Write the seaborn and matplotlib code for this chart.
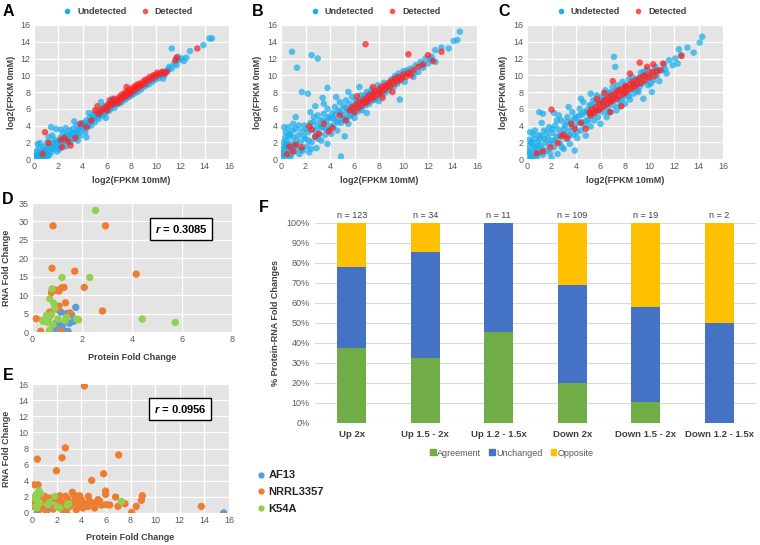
# figura compuesta: FPKM scatter (A-C), fold change (D-E), barras apiladas (F)
import numpy as np
import pandas as pd
import matplotlib
matplotlib.use("Agg")
import matplotlib.pyplot as plt
import seaborn as sns
from matplotlib.lines import Line2D
from matplotlib.patches import Patch

# datos
# A-C: (log2 FPKM 10mM, log2 FPKM 0mM)
a_undet = [
    (0.1, 0.1), (0.2, 0.4), (0.3, 0.1), (0.4, 0.6), (0.5, 0.2), (0.6, 0.9), (0.7, 0.4), (0.8, 0.1),
    (0.9, 0.7), (1.0, 1.2), (0.2, 0.9), (0.4, 1.3), (0.1, 0.6), (0.6, 0.3), (1.1, 0.5), (1.2, 0.9),
    (0.3, 1.8), (0.8, 1.5), (0.5, 1.9), (1.3, 1.5), (1.4, 0.8), (1.5, 1.9), (1.6, 1.2), (1.7, 2.3),
    (1.8, 1.6), (1.9, 0.9), (1.2, 2.6), (1.5, 2.8), (1.4, 3.8), (1.8, 3.6), (1.1, 2.0), (2.0, 2.0),
    (2.1, 1.4), (2.2, 2.6), (2.3, 1.9), (2.4, 3.1), (2.5, 2.2), (2.6, 1.5), (2.7, 2.9), (2.8, 2.4),
    (2.9, 3.4), (3.0, 2.0), (2.2, 3.5), (2.6, 3.7), (3.1, 2.8), (3.2, 3.6), (3.3, 2.4), (3.4, 3.2),
    (3.5, 4.0), (3.6, 3.0), (3.7, 3.6), (3.8, 2.8), (3.9, 4.3), (4.0, 3.5), (3.3, 4.5), (3.6, 2.2),
    (4.1, 4.0), (4.2, 3.2), (4.3, 4.6), (4.4, 3.8), (4.5, 4.4), (4.6, 5.0), (4.7, 4.0), (4.8, 4.7),
    (4.9, 5.3), (5.0, 4.4), (4.3, 2.6), (4.5, 5.5), (5.1, 5.0), (5.2, 5.6), (5.3, 4.8), (5.4, 5.4),
    (5.5, 6.0), (5.6, 5.2), (5.7, 5.8), (5.8, 6.3), (5.9, 5.5), (6.0, 6.0), (5.5, 6.8), (5.9, 4.9),
    (6.1, 6.5), (6.2, 5.8), (6.3, 6.2), (6.5, 6.8), (6.6, 6.1), (6.7, 6.5), (6.9, 7.0), (7.0, 6.6),
    (6.4, 7.2), (7.1, 7.3), (7.2, 6.8), (7.4, 7.5), (7.5, 7.1), (7.6, 7.8), (7.8, 7.4), (7.9, 8.0),
    (8.0, 7.6), (8.1, 8.2), (8.2, 7.8), (8.4, 8.5), (8.5, 8.0), (8.7, 8.7), (8.8, 8.3), (9.0, 9.0),
    (9.1, 8.7), (9.3, 9.3), (9.4, 8.9), (9.6, 9.6), (9.7, 9.2), (9.9, 9.9), (10.0, 9.5), (10.2, 10.1),
    (10.3, 9.7), (10.5, 10.3), (10.7, 10.0), (10.9, 10.5), (10.6, 9.6), (11.1, 11.0), (11.3, 10.8),
    (11.5, 11.4), (11.7, 11.2), (11.9, 11.8), (11.3, 13.2), (11.8, 12.2), (12.1, 12.0), (12.3, 11.7),
    (12.5, 12.1), (12.8, 12.9), (13.9, 13.6), (14.4, 14.4), (14.6, 14.4),
    (0.15, 0.35), (0.35, 0.45), (0.55, 0.55), (0.75, 0.75), (0.95, 0.35), (0.25, 0.15), (0.45, 0.05),
    (0.65, 0.15), (0.05, 0.35), (0.85, 1.05), (1.05, 0.15), (1.25, 0.45), (1.45, 1.35), (1.65, 1.65),
    (1.85, 2.05), (2.05, 1.15), (2.25, 2.05), (2.45, 2.55), (2.65, 2.25), (2.85, 2.85), (3.05, 3.05),
    (3.25, 3.05), (3.45, 2.85), (3.65, 3.45), (3.85, 3.85), (4.05, 4.25), (4.25, 4.25), (4.45, 4.15),
    (4.65, 4.55), (4.85, 4.95), (5.05, 5.25), (5.35, 5.15), (5.65, 5.55), (5.95, 5.85), (6.25, 6.05),
    (6.55, 6.45), (6.85, 6.75), (7.15, 6.95), (7.45, 7.25), (7.75, 7.65), (8.05, 7.95), (8.35, 8.15),
    (8.65, 8.45), (8.95, 8.75), (9.25, 9.05), (9.55, 9.35), (9.85, 9.65), (10.15, 9.95),
    (10.45, 10.05), (10.75, 10.45), (11.05, 10.75),
]
a_det = [
    (0.7, 0.6), (0.9, 3.2), (1.2, 1.9), (2.2, 2.3), (2.3, 1.4), (2.5, 2.5), (2.8, 2.1), (3.0, 1.6),
    (3.4, 2.5), (3.8, 4.2), (4.3, 3.8), (4.7, 4.6), (5.0, 5.8), (5.2, 6.3), (5.3, 5.4), (5.5, 5.7),
    (5.7, 6.0), (5.9, 6.2), (6.0, 5.8), (6.1, 6.5), (6.3, 6.4), (6.4, 6.9), (6.5, 6.6), (6.6, 7.2),
    (6.8, 7.0), (6.9, 6.7), (7.0, 7.4), (7.1, 7.1), (7.2, 7.7), (7.3, 7.3), (7.4, 7.6), (7.5, 8.0),
    (7.6, 7.5), (7.7, 7.9), (7.8, 8.3), (7.9, 7.8), (8.0, 8.1), (8.1, 8.5), (8.2, 8.2), (8.3, 8.7),
    (8.4, 8.4), (8.5, 8.9), (8.6, 8.6), (8.7, 9.0), (8.8, 8.8), (9.0, 9.3), (9.1, 9.0), (9.2, 9.5),
    (9.4, 9.4), (9.5, 9.8), (9.7, 9.6), (9.8, 10.0), (10.0, 9.9), (10.1, 10.3), (10.3, 10.1),
    (10.5, 10.4), (10.7, 10.2), (10.9, 10.4), (11.6, 11.8), (11.7, 12.1), (13.4, 13.2), (6.2, 7.0),
    (7.6, 8.6),
]
b_undet = [
    (0.1, 0.2), (0.2, 0.8), (0.3, 1.5), (0.4, 0.3), (0.5, 2.2), (0.6, 1.0), (0.7, 3.0), (0.8, 0.5),
    (0.9, 1.8), (1.0, 2.6), (0.2, 2.0), (0.4, 3.2), (0.6, 3.8), (0.1, 1.2), (1.1, 0.9), (1.2, 3.6),
    (1.3, 1.4), (1.4, 2.8), (1.5, 0.6), (1.6, 2.0), (1.7, 3.3), (1.8, 1.0), (1.9, 4.0), (2.0, 2.4),
    (1.2, 5.0), (1.0, 4.2), (2.1, 1.5), (2.2, 3.2), (2.3, 0.8), (2.4, 4.3), (2.5, 2.0), (2.6, 3.6),
    (2.7, 5.0), (2.8, 2.6), (2.9, 1.3), (3.0, 4.0), (2.4, 5.6), (3.0, 5.2), (2.8, 6.3), (3.1, 3.0),
    (3.2, 4.6), (3.3, 2.2), (3.4, 3.8), (3.5, 5.4), (3.6, 2.9), (3.7, 4.4), (3.8, 6.0), (3.9, 3.5),
    (4.0, 4.9), (3.5, 6.6), (3.8, 1.8), (4.1, 3.0), (4.2, 5.5), (4.3, 4.0), (4.4, 6.2), (4.5, 4.6),
    (4.6, 3.4), (4.7, 5.8), (4.8, 6.8), (4.9, 4.3), (5.0, 5.3), (4.5, 7.4), (5.2, 2.7), (5.1, 6.3),
    (5.2, 4.8), (5.3, 7.0), (5.4, 5.7), (5.5, 4.2), (5.6, 6.6), (5.7, 5.2), (5.8, 7.4), (5.9, 6.0),
    (6.0, 4.9), (5.5, 8.0), (6.1, 7.0), (6.2, 5.6), (6.3, 6.5), (6.5, 7.6), (6.6, 5.8), (6.7, 7.2),
    (6.9, 6.4), (7.0, 8.0), (6.4, 8.6), (7.0, 5.5), (7.1, 7.3), (7.2, 6.6), (7.4, 8.3), (7.5, 7.0),
    (7.6, 8.0), (7.8, 7.4), (7.9, 8.8), (8.0, 6.9), (8.1, 8.4), (8.2, 7.6), (8.4, 9.1), (8.5, 7.9),
    (8.7, 8.8), (8.8, 8.2), (9.0, 9.5), (9.2, 8.6), (9.3, 9.9), (9.5, 9.0), (9.6, 10.2), (9.8, 9.4),
    (10.0, 10.5), (10.1, 9.2), (10.4, 10.2), (10.6, 10.8), (10.8, 9.8), (11.0, 11.2), (11.2, 10.4),
    (11.4, 11.6), (11.6, 10.9), (11.8, 12.0), (12.0, 11.4), (12.3, 12.2), (12.6, 11.6), (12.6, 13.0),
    (13.1, 13.3), (13.7, 13.2), (14.1, 14.1), (14.4, 14.2), (14.6, 15.2), (0.9, 12.8), (2.5, 12.4),
    (3.0, 12.0), (1.3, 10.9), (1.7, 8.0), (2.2, 7.8), (3.8, 8.5), (3.4, 7.3), (4.9, 0.3), (9.7, 7.1),
    (0.15, 0.5), (0.35, 2.6), (0.55, 1.4), (0.75, 0.2), (0.95, 3.4), (0.25, 3.8), (0.45, 1.8),
    (0.65, 2.8), (0.85, 1.2), (1.05, 1.6), (1.25, 2.2), (1.45, 4.0), (1.65, 1.1), (1.85, 2.7),
    (2.05, 3.6), (2.25, 2.2), (2.45, 1.2), (2.65, 4.4), (2.85, 3.3), (3.05, 2.4), (3.25, 3.8),
    (3.45, 4.6), (3.65, 3.6), (3.85, 5.0), (4.05, 3.9), (4.25, 4.8), (4.45, 5.3), (4.65, 4.4),
    (4.85, 5.6), (5.05, 4.7), (5.25, 6.1), (5.45, 5.0), (5.65, 5.9), (5.85, 5.4), (6.05, 6.3),
    (6.25, 6.9), (6.45, 6.0), (6.65, 6.7), (6.85, 7.6), (7.05, 6.8), (7.3, 7.9), (7.7, 7.1),
    (8.3, 8.0), (8.9, 8.5), (9.4, 9.6), (9.9, 9.8), (10.3, 10.6), (10.9, 10.3), (11.5, 11.2),
    (12.2, 11.9),
]
b_det = [
    (0.5, 0.6), (0.7, 1.5), (1.0, 0.9), (1.2, 1.7), (1.7, 1.4), (2.3, 3.9), (2.5, 3.5), (2.8, 2.7),
    (3.1, 3.0), (3.5, 4.2), (3.9, 3.3), (4.2, 3.7), (4.8, 5.2), (5.3, 4.6), (5.6, 5.8), (5.8, 6.2),
    (6.0, 5.6), (6.1, 6.5), (6.3, 6.1), (6.4, 6.8), (6.6, 6.4), (6.7, 7.0), (6.9, 6.7), (7.0, 7.3),
    (7.1, 6.9), (7.2, 7.6), (7.4, 7.2), (7.5, 7.8), (7.6, 7.4), (7.7, 8.1), (7.9, 7.7), (8.0, 8.3),
    (8.1, 7.9), (8.2, 8.6), (8.4, 8.2), (8.5, 8.8), (8.6, 8.5), (8.8, 9.1), (8.9, 8.7), (9.0, 9.3),
    (9.2, 9.0), (9.3, 9.6), (9.5, 9.3), (9.6, 9.8), (9.8, 9.5), (10.0, 10.1), (10.2, 9.8),
    (10.4, 10.3), (10.6, 10.0), (10.8, 10.6), (11.2, 11.0), (11.6, 11.3), (12.0, 12.4), (12.4, 11.7),
    (13.1, 12.8), (6.9, 13.7), (10.4, 12.5), (9.1, 8.0), (8.3, 7.3), (7.5, 8.6), (6.2, 7.5),
]
c_undet = [
    (0.1, 0.3), (0.2, 1.0), (0.3, 0.1), (0.4, 1.8), (0.5, 0.6), (0.6, 2.4), (0.7, 1.2), (0.8, 0.2),
    (0.9, 2.0), (1.0, 0.8), (0.2, 2.3), (0.1, 1.6), (0.5, 3.0), (1.1, 1.6), (1.2, 2.8), (1.3, 0.5),
    (1.4, 3.4), (1.5, 1.9), (1.6, 1.0), (1.7, 2.6), (1.8, 3.8), (1.9, 0.7), (2.0, 2.2), (1.2, 4.3),
    (1.3, 5.4), (2.1, 3.1), (2.2, 1.4), (2.3, 4.0), (2.4, 2.6), (2.5, 0.6), (2.6, 3.5), (2.7, 1.9),
    (2.8, 4.6), (2.9, 3.0), (3.0, 1.2), (2.6, 5.2), (2.2, 5.5), (3.1, 4.0), (3.2, 2.4), (3.3, 5.0),
    (3.4, 3.3), (3.5, 1.8), (3.6, 4.4), (3.7, 5.6), (3.8, 2.9), (3.9, 3.9), (4.0, 5.0), (3.4, 6.2),
    (3.9, 1.0), (4.1, 2.5), (4.2, 4.4), (4.3, 6.0), (4.4, 3.4), (4.5, 5.3), (4.6, 6.8), (4.7, 4.0),
    (4.8, 2.8), (4.9, 5.8), (5.0, 4.6), (4.4, 7.2), (5.1, 6.4), (5.2, 3.9), (5.3, 5.2), (5.4, 7.0),
    (5.5, 4.6), (5.6, 5.9), (5.7, 7.6), (5.8, 5.0), (5.9, 6.6), (6.0, 4.2), (5.2, 7.8), (6.1, 7.4),
    (6.2, 5.6), (6.3, 6.8), (6.4, 8.2), (6.5, 5.0), (6.6, 6.2), (6.7, 7.8), (6.8, 5.6), (6.9, 7.0),
    (7.0, 8.6), (7.1, 6.4), (7.2, 7.6), (7.3, 5.8), (7.4, 8.8), (7.5, 7.0), (7.6, 6.3), (7.7, 8.2),
    (7.8, 9.2), (7.9, 7.4), (8.0, 6.6), (8.1, 8.6), (8.2, 7.8), (8.3, 9.5), (8.4, 7.1), (8.5, 8.4),
    (8.6, 9.8), (8.7, 7.8), (8.8, 8.9), (8.9, 9.5), (9.0, 8.2), (9.1, 9.6), (9.2, 8.6), (9.3, 10.3),
    (9.4, 9.0), (9.5, 7.2), (9.6, 10.0), (9.7, 9.3), (9.8, 10.7), (9.9, 8.8), (10.0, 9.8),
    (10.2, 10.4), (10.3, 9.4), (10.5, 11.0), (10.6, 10.0), (10.8, 9.3), (11.0, 10.6), (11.2, 11.3),
    (11.4, 10.2), (11.6, 11.8), (11.9, 11.2), (12.1, 12.0), (12.3, 11.4), (12.4, 13.1), (12.6, 12.4),
    (13.1, 13.3), (13.6, 12.7), (14.1, 13.9), (14.3, 14.6), (7.1, 12.2), (7.2, 11.0), (10.2, 8.0),
    (1.0, 5.6), (2.0, 0.1),
    (0.15, 0.8), (0.35, 2.0), (0.55, 1.4), (0.75, 0.5), (0.95, 2.8), (0.25, 3.2), (0.45, 0.2),
    (0.65, 3.4), (0.85, 1.6), (1.05, 2.4), (1.25, 1.2), (1.45, 2.4), (1.65, 3.2), (1.85, 1.8),
    (2.05, 3.6), (2.25, 2.2), (2.45, 4.6), (2.65, 2.8), (2.85, 1.4), (3.05, 3.6), (3.25, 4.4),
    (3.45, 2.8), (3.65, 3.8), (3.85, 4.8), (4.05, 3.2), (4.25, 5.2), (4.45, 4.4), (4.65, 5.6),
    (4.85, 4.6), (5.05, 5.4), (5.25, 6.4), (5.45, 5.6), (5.65, 6.8), (5.85, 5.8), (6.05, 7.0),
    (6.25, 6.2), (6.45, 7.4), (6.65, 5.6), (6.85, 8.0), (7.05, 7.2), (7.3, 8.2), (7.7, 7.0),
    (8.0, 8.8), (8.3, 7.5), (8.7, 9.0), (9.1, 8.0), (9.5, 10.4), (10.1, 9.0), (10.6, 10.6),
    (11.3, 10.7),
]
c_det = [
    (0.8, 0.7), (1.3, 0.9), (1.9, 1.4), (2.0, 5.9), (2.5, 1.9), (2.8, 2.7), (3.0, 2.9), (3.3, 2.5),
    (3.6, 4.2), (3.9, 3.6), (4.4, 4.3), (4.8, 3.6), (5.1, 5.6), (5.2, 5.2), (5.3, 5.9), (5.5, 5.5),
    (5.6, 6.2), (5.8, 5.8), (5.9, 6.6), (6.0, 6.0), (6.2, 6.8), (6.3, 6.3), (6.4, 7.1), (6.6, 6.6),
    (6.7, 7.4), (6.8, 6.8), (6.9, 7.6), (7.0, 7.0), (7.2, 7.8), (7.3, 7.2), (7.4, 8.1), (7.5, 7.5),
    (7.6, 8.3), (7.8, 7.7), (7.9, 8.5), (8.0, 7.9), (8.1, 8.7), (8.2, 8.2), (8.4, 8.9), (8.5, 8.4),
    (8.6, 9.2), (8.8, 8.6), (8.9, 9.4), (9.0, 8.9), (9.2, 9.7), (9.3, 9.1), (9.5, 9.9), (9.6, 9.4),
    (9.8, 10.1), (10.0, 9.7), (10.2, 10.4), (10.4, 9.9), (10.6, 10.5), (9.2, 11.5), (9.8, 11.0),
    (10.3, 11.3), (7.0, 9.3), (6.3, 7.9), (7.7, 6.3), (8.4, 10.2), (5.7, 7.2), (12.6, 12.3),
    (11.1, 11.4), (10.9, 10.6), (6.8, 5.6),
]

# D: (protein FC, RNA FC)
d_af13 = [(1.75, 6.7), (1.15, 5.4), (1.58, 4.7), (1.38, 5.0), (1.67, 2.9), (0.98, 2.6), (1.24, 2.0),
          (0.71, 0.2), (0.91, 0.0), (1.31, 0.2), (1.44, 0.2), (1.11, 1.5), (0.84, 1.1), (1.51, 2.4)]
d_nrrl = [(0.84, 28.8), (2.94, 28.8), (0.80, 17.3), (1.71, 16.5), (4.17, 15.7), (2.09, 12.1),
          (1.18, 12.0), (1.28, 12.1), (0.95, 11.4), (0.78, 10.7), (1.08, 11.1), (1.34, 7.9),
          (1.08, 7.0), (2.82, 5.7), (0.17, 3.6), (0.71, 5.4), (1.51, 5.2), (0.35, 0.2), (1.15, 0.2),
          (0.98, 6.2), (0.44, 3.1), (0.67, 3.8), (0.58, 2.9)]
d_k54a = [(2.54, 33.0), (2.31, 14.8), (1.20, 14.8), (0.80, 11.7), (0.71, 9.0), (0.87, 7.8),
          (0.91, 6.5), (4.41, 3.5), (5.73, 2.6), (1.78, 3.5), (1.87, 3.3), (0.68, 4.2), (0.78, 4.7),
          (0.58, 4.5), (0.44, 2.9), (0.62, 2.6), (0.84, 2.0), (1.04, 3.5), (1.38, 4.0), (1.32, 3.1),
          (0.71, 0.5)]

# E
e_af13 = [(15.57, 0.0), (0.43, 0.0), (1.43, 0.62), (4.55, 1.24), (2.79, 0.2)]
e_nrrl = [(4.25, 15.75), (2.71, 8.08), (2.44, 6.85), (0.43, 6.68), (7.04, 7.2), (1.98, 5.24),
          (5.82, 4.87), (4.85, 4.04), (5.98, 2.72), (5.98, 2.31), (6.79, 1.98), (6.98, 0.82),
          (8.96, 2.14), (8.88, 1.57), (8.47, 0.82), (8.09, 0.08), (13.75, 0.82), (4.58, 2.06),
          (3.41, 2.27), (3.28, 2.56), (0.22, 3.5), (0.49, 3.5), (1.16, 0.0), (2.79, 0.0),
          (6.31, 0.99), (5.63, 0.99), (5.09, 1.24), (5.36, 1.65), (7.55, 1.15), (0.08, 0.82),
          (0.22, 1.65), (0.35, 2.06), (0.62, 1.24), (0.89, 0.62), (1.16, 1.44), (1.43, 1.03),
          (1.71, 1.73), (1.98, 0.82), (2.25, 2.14), (2.38, 1.32), (2.65, 0.82), (2.92, 1.73),
          (3.19, 1.15), (3.47, 1.44), (3.74, 0.91), (4.01, 1.65), (4.28, 1.15), (4.55, 0.82),
          (3.87, 2.14), (3.55, 1.98), (2.73, 2.06), (1.43, 1.86), (0.76, 1.65), (0.30, 1.24),
          (1.03, 2.06), (2.11, 1.65), (3.06, 0.82), (4.14, 0.62), (1.71, 0.49), (0.57, 0.41),
          (2.52, 0.33), (3.60, 0.41), (4.68, 1.44), (5.09, 0.62), (5.50, 1.44), (6.04, 1.03)]
e_k54a = [(0.57, 2.76), (0.68, 2.39), (0.35, 2.27), (0.43, 1.65), (0.30, 0.82), (0.62, 1.24),
          (0.41, 0.62), (1.43, 1.32), (1.30, 1.03), (1.84, 2.06), (2.03, 0.82), (2.25, 0.62),
          (2.87, 0.95), (2.98, 1.15), (7.26, 1.44), (0.08, 1.86)]

# F: % de cambios proteina-RNA
categorias = ["Up 2x", "Up 1.5 - 2x", "Up 1.2 - 1.5x", "Down 2x", "Down 1.5 - 2x", "Down 1.2 - 1.5x"]
n_genes    = [123, 34, 11, 109, 19, 2]
agreement  = [37.4, 32.4, 45.5, 20.2, 10.5, 0.0]
unchanged  = [40.7, 52.9, 54.5, 48.6, 47.4, 50.0]
opposite   = [22.0, 14.7, 0.0, 31.2, 42.1, 50.0]

AZUL, ROJO = "#1AAEEE", "#FF2020"
C_AF13, C_NRRL, C_K54A = "#5B9BD5", "#ED7D31", "#92D050"
VERDE, AZUL_F, AMARILLO = "#70AD47", "#4472C4", "#FFC000"
GRIS_TXT, OSCURO = "#595959", "#404040"
FONDO = "#E4E4E4"
FS = 6.5

sns.set_theme(style="white")
plt.rcParams["font.family"] = ["Liberation Sans", "DejaVu Sans"]
plt.rcParams["mathtext.fontset"] = "custom"
plt.rcParams["mathtext.it"] = "Liberation Sans:italic:bold"
plt.rcParams["mathtext.rm"] = "Liberation Sans:bold"

W, H = 760, 545
fig = plt.figure(figsize=(7.6, 5.45), dpi=100)


def caja(x0, y0, x1, y1):
    # ejes a partir de pixeles (origen arriba a la izquierda)
    return fig.add_axes([x0 / W, 1 - y1 / H, (x1 - x0) / W, (y1 - y0) / H])


def estilo_gris(ax, xmax, ymax, xstep, ystep):
    ax.set_facecolor(FONDO)
    ax.set_xlim(0, xmax)
    ax.set_ylim(0, ymax)
    ax.set_xticks(np.arange(0, xmax + 1, xstep))
    ax.set_yticks(np.arange(0, ymax + 1, ystep))
    ax.grid(True, color="white", lw=0.9)
    ax.set_axisbelow(True)
    for s in ax.spines.values():
        s.set_visible(False)
    ax.tick_params(length=0, labelsize=FS, labelcolor=GRIS_TXT, pad=2.5)


def etiquetas(ax, box, xlab, ylab, y_xlab, x_ylab):
    x0, y0, x1, y1 = box
    h, w = y1 - y0, x1 - x0
    ax.set_xlabel(xlab, fontsize=FS, fontweight="bold", color=OSCURO)
    ax.set_ylabel(ylab, fontsize=FS, fontweight="bold", color=OSCURO)
    ax.xaxis.set_label_coords(0.5, -(y_xlab - 4.5 - y1) / h)
    ax.yaxis.set_label_coords(-(x0 - x_ylab - 4.5) / w, 0.5)


def letra(x, y, t):
    fig.text(x / W, 1 - y / H, t, fontsize=11.5, fontweight="bold", color="black",
             ha="left", va="center")


# A-C
paneles = [
    ("A", a_undet, a_det, (34, 25, 229, 159), 12, 3),
    ("B", b_undet, b_det, (281, 25, 477, 159), 257, 252),
    ("C", c_undet, c_det, (527, 25, 723, 159), 503, 498),
]
for nombre, undet, det, box, x_ylab, x_letra in paneles:
    ax = caja(*box)
    df = pd.DataFrame(undet + det, columns=["x10", "x0"])
    df["grupo"] = ["Undetected"] * len(undet) + ["Detected"] * len(det)
    sns.scatterplot(data=df, x="x10", y="x0", hue="grupo",
                    palette={"Undetected": AZUL, "Detected": ROJO},
                    s=22, alpha=0.72, linewidth=0, ax=ax, legend=False)
    estilo_gris(ax, 16, 16, 2, 2)
    etiquetas(ax, box, "log2(FPKM 10mM)", "log2(FPKM 0mM)", 180, x_ylab)
    hs = [Line2D([], [], marker="o", ls="", color=AZUL, markersize=3),
          Line2D([], [], marker="o", ls="", color=ROJO, markersize=3, alpha=0.7)]
    leg = ax.legend(hs, ["Undetected", "Detected"], ncol=2, frameon=False,
                    loc="center", bbox_to_anchor=(0.47, 1 + 13 / 134),
                    handletextpad=0.1, columnspacing=1.0, borderaxespad=0,
                    prop={"size": FS, "weight": "bold"})
    for t in leg.get_texts():
        t.set_color(OSCURO)
    letra(x_letra, 12, nombre)

# D y E
cepas = ["AF13", "NRRL3357", "K54A"]
colores_cepa = {"AF13": C_AF13, "NRRL3357": C_NRRL, "K54A": C_K54A}


def panel_fc(box, grupos, xmax, ymax, xstep, ystep, r_txt, rbox, y_xlab):
    ax = caja(*box)
    filas = []
    for cepa, pts in zip(cepas, grupos):
        filas += [(cepa, p, r) for p, r in pts]
    df = pd.DataFrame(filas, columns=["cepa", "prot", "rna"])
    sns.scatterplot(data=df, x="prot", y="rna", hue="cepa", palette=colores_cepa,
                    s=28, linewidth=0, alpha=1, ax=ax, legend=False)
    estilo_gris(ax, xmax, ymax, xstep, ystep)
    etiquetas(ax, box, "Protein Fold Change", "RNA Fold Change", y_xlab, 7)
    cx, cy = rbox
    fig.text(cx / W, 1 - cy / H, r"$r$ = " + r_txt, fontsize=8, fontweight="bold",
             color="black", ha="center", va="center",
             bbox=dict(boxstyle="square,pad=0.45", fc="white", ec="black", lw=1))
    return ax


panel_fc((32, 203, 232, 332), [d_af13, d_nrrl, d_k54a], 8, 35, 2, 5,
         "0.3085", (181, 229.5), 357)
panel_fc((32, 384, 229, 513), [e_af13, e_nrrl, e_k54a], 16, 16, 2, 2,
         "0.0956", (180, 409), 537)
letra(2, 200, "D")
letra(3, 375, "E")

hs = [Line2D([], [], marker="o", ls="", color=colores_cepa[c], markersize=3.5) for c in cepas]
leg = fig.legend(hs, cepas, loc="upper left", bbox_to_anchor=(252 / W, 1 - 466 / H),
                 frameon=False, handletextpad=0.3, labelspacing=0.6, borderaxespad=0,
                 handlelength=0.8, prop={"size": 8, "weight": "bold"})
for t in leg.get_texts():
    t.set_color("#262626")

# F barras apiladas
box_f = (315, 223, 756, 423)
ax = caja(*box_f)
df_f = pd.DataFrame({"cat": categorias, "agr": agreement, "unc": unchanged, "opp": opposite})
df_f["tope_unc"] = df_f["agr"] + df_f["unc"]
df_f["tope_opp"] = df_f["tope_unc"] + df_f["opp"]
for col, color in [("tope_opp", AMARILLO), ("tope_unc", AZUL_F), ("agr", VERDE)]:
    sns.barplot(data=df_f, x="cat", y=col, color=color, saturation=1, width=0.4,
                linewidth=0, errorbar=None, ax=ax)
ax.set_xlim(-0.5, 5.5)
ax.set_ylim(0, 100)
ax.set_yticks(np.arange(0, 101, 10))
ax.set_yticklabels([f"{v}%" for v in range(0, 101, 10)])
ax.grid(axis="y", color="#D9D9D9", lw=0.8)
ax.set_axisbelow(True)
for s in ax.spines.values():
    s.set_visible(False)
ax.tick_params(axis="y", length=0, labelsize=FS, labelcolor=GRIS_TXT, pad=4)
ax.tick_params(axis="x", length=0, labelsize=6.8, labelcolor=OSCURO, pad=5)
for t in ax.get_xticklabels():
    t.set_fontweight("bold")
ax.set_xlabel("")
ax.set_ylabel("% Protein-RNA Fold Changes", fontsize=FS, fontweight="bold", color=OSCURO)
ax.yaxis.set_label_coords(-(315 - 276 - 4.5) / 441, 0.5)
for i, n in enumerate(n_genes):
    ax.text(i, 101.5, f"n = {n}", ha="center", va="bottom", fontsize=FS, color=OSCURO)
hs = [Patch(color=VERDE), Patch(color=AZUL_F), Patch(color=AMARILLO)]
leg = ax.legend(hs, ["Agreement", "Unchanged", "Opposite"], ncol=3, frameon=False,
                loc="center", bbox_to_anchor=((512 - 315) / 441, -(453 - 423) / 200),
                handlelength=0.6, handleheight=0.6, handletextpad=0.15, columnspacing=0.9,
                borderaxespad=0, prop={"size": FS})
for t in leg.get_texts():
    t.set_color(GRIS_TXT)
letra(259, 208, "F")

fig.savefig("out.png", dpi=100)
